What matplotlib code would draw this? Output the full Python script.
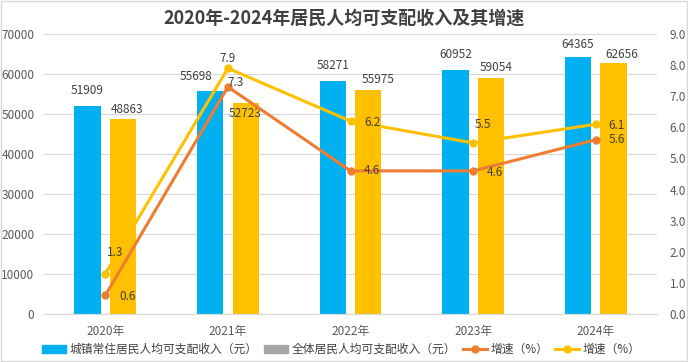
import matplotlib.pyplot as plt
import matplotlib.patches as mpatches
import matplotlib.lines as mlines
import numpy as np

plt.rcParams['font.family'] = ['Noto Sans CJK SC', 'DejaVu Sans']

# 数据
years = ['2020年', '2021年', '2022年', '2023年', '2024年']
urban_income = [51909, 55698, 58271, 60952, 64365]
all_income = [48863, 52723, 55975, 59054, 62656]
urban_growth = [0.6, 7.3, 4.6, 4.6, 5.6]
all_growth = [1.3, 7.9, 6.2, 5.5, 6.1]

c_blue = '#00B0F0'
c_yellow = '#FFC000'
c_orange = '#ED7D31'
c_gray = '#A5A5A5'
c_text = '#404040'
c_tick = '#595959'

fig = plt.figure(figsize=(6.88, 3.62), dpi=100)
ax = fig.add_axes([0.064, 0.1326, 0.891, 0.7735])
ax2 = ax.twinx()

x = np.arange(len(years))
w = 0.215
ax.bar(x - 0.145, urban_income, w, color=c_blue, zorder=2)
ax.bar(x + 0.145, all_income, w, color=c_yellow, zorder=2)

ax.set_xlim(-0.5, 4.5)
ax.set_ylim(0, 70000)
ax.set_yticks(range(0, 70001, 10000))
ax2.set_ylim(0, 9)
ax2.set_yticks(np.arange(0, 9.1, 1))
ax2.set_yticklabels([f'{v:.1f}' for v in np.arange(0, 9.1, 1)])
ax.set_xticks(x)
ax.set_xticklabels(years)

ax.grid(axis='y', color='#D9D9D9', linewidth=0.8, zorder=0)
for a in (ax, ax2):
    for s in ('top', 'left', 'right'):
        a.spines[s].set_visible(False)
    a.spines['bottom'].set_color('#D9D9D9')
    a.tick_params(length=0, labelsize=8.5, colors=c_tick)
ax.tick_params(axis='y', pad=7)
ax.tick_params(axis='x', pad=8)
ax2.tick_params(axis='y', pad=9)

ax2.plot(x, urban_growth, color=c_orange, lw=2.2, marker='o', ms=5, zorder=3)
ax2.plot(x, all_growth, color=c_yellow, lw=2.2, marker='o', ms=5, zorder=3)

# 数据标签（偏移量，像素）
urban_off = [(0, 16), (-14, 15), (0, 15), (0, 16), (0, 12)]
all_off = [(4, 9), (-1, -10), (10, 11), (5, 10), (8, 9)]
for i in range(len(years)):
    ax.annotate(str(urban_income[i]), (x[i] - 0.145, urban_income[i]),
                xytext=urban_off[i], textcoords='offset pixels',
                ha='center', va='center', fontsize=8.5, color=c_text, zorder=5)
    ax.annotate(str(all_income[i]), (x[i] + 0.145, all_income[i]),
                xytext=all_off[i], textcoords='offset pixels',
                ha='center', va='center', fontsize=8.5, color=c_text, zorder=5)

ug_off = [(22, -1), (8, 4), (21, 0), (22, -2), (21, 0)]
ag_off = [(10, 21), (0, 10), (22, -1), (10, 18), (21, -1)]
ag_leader = [True, False, False, True, False]
for i in range(len(years)):
    ax2.annotate(f'{urban_growth[i]:.1f}', (x[i], urban_growth[i]),
                 xytext=ug_off[i], textcoords='offset pixels',
                 ha='center', va='center', fontsize=8.5, color=c_text, zorder=5)
    props = dict(arrowstyle='-', color='#A6A6A6', lw=0.7, shrinkA=6, shrinkB=3) if ag_leader[i] else None
    ax2.annotate(f'{all_growth[i]:.1f}', (x[i], all_growth[i]),
                 xytext=ag_off[i], textcoords='offset pixels',
                 ha='center', va='center', fontsize=8.5, color=c_text, zorder=5,
                 arrowprops=props)

fig.suptitle('2020年-2024年居民人均可支配收入及其增速', x=0.5, y=0.975,
             fontsize=13, fontweight='bold', color=c_text)

handles = [
    mpatches.Patch(color=c_blue, label='城镇常住居民人均可支配收入（元）'),
    mpatches.Patch(color=c_gray, label='全体居民人均可支配收入（元）'),
    mlines.Line2D([], [], color=c_orange, lw=2.2, marker='o', ms=5, label='增速（%）'),
    mlines.Line2D([], [], color=c_yellow, lw=2.2, marker='o', ms=5, label='增速（%）'),
]
leg = fig.legend(handles=handles, loc='center', bbox_to_anchor=(0.496, 0.035),
                 ncol=4, frameon=False, fontsize=8.5, handlelength=2.0,
                 handleheight=0.7, handletextpad=0.3, columnspacing=0.6,
                 borderpad=0)
for t in leg.get_texts():
    t.set_color(c_text)

fig.patches.append(mpatches.Rectangle((0.001, 0.002), 0.997, 0.995, transform=fig.transFigure,
                                      fill=False, edgecolor='#D9D9D9', lw=1))

fig.savefig('out.png', dpi=100)
